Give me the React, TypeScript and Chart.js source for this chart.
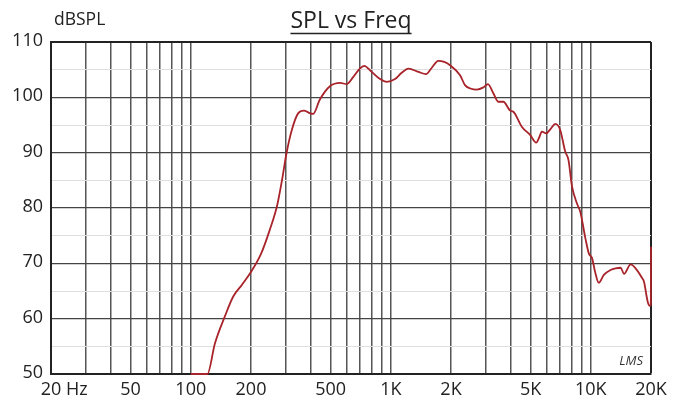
import React, { useEffect, useRef } from "react";
import { Chart, registerables } from "chart.js";

Chart.register(...registerables);

// Frequency response samples (Hz)
const freqHz = [
  100, 121, 132, 148, 163, 180, 198, 225, 248, 270, 286, 301, 320, 344, 368, 390, 409, 442,
  496, 558, 602, 650, 700, 736, 802, 884, 954, 1050, 1130, 1226, 1374, 1500, 1600, 1728,
  1850, 1978, 2220, 2350, 2500, 2692, 2906, 3060, 3260, 3452, 3656, 3950, 4100, 4518, 4972,
  5334, 5500, 5696, 5984, 6300, 6646, 7032, 7450, 7732, 8054, 8531, 8862, 9400, 9772, 10156,
  10500, 10960, 11616, 12550, 13306, 14100, 14660, 15820, 16740, 18080, 18440, 19300, 19750,
  19960, 20000,
];
// SPL values (dB)
const splDb = [
  50, 50, 55.5, 60.4, 64.0, 66.1, 68.2, 71.8, 76.0, 80.4, 85.1, 89.9, 94.1, 97.1, 97.6, 97.2,
  97.0, 99.6, 102.0, 102.6, 102.4, 103.7, 105.2, 105.7, 104.6, 103.3, 102.8, 103.3, 104.4,
  105.2, 104.6, 104.2, 105.3, 106.6, 106.4, 105.8, 104.0, 102.2, 101.6, 101.4, 101.8, 102.4,
  100.7, 99.2, 99.2, 97.6, 97.4, 94.7, 93.2, 91.8, 92.6, 93.8, 93.5, 94.3, 95.2, 94.1, 90.2,
  88.7, 83.9, 80.8, 79.3, 74.5, 71.8, 70.9, 68.5, 66.5, 67.9, 68.8, 69.1, 69.2, 68.1, 69.8,
  69.1, 67.3, 66.7, 62.9, 62.3, 62.5, 73.0,
];

const gridFreqs = [
  20, 30, 40, 50, 60, 70, 80, 90, 100, 200, 300, 400, 500, 600, 700, 800, 900, 1000, 2000,
  3000, 4000, 5000, 6000, 7000, 8000, 9000, 10000, 20000,
];
const xTickValues = [20, 50, 100, 200, 500, 1000, 2000, 5000, 10000, 20000];
const xTickLabels = ["20 Hz", "50", "100", "200", "500", "1K", "2K", "5K", "10K", "20K"];
const yTickValues = [50, 60, 70, 80, 90, 100, 110];
const titleText = "SPL vs Freq";
const yUnitText = "dBSPL";
const watermarkText = "LMS";

const FONT = '"Open Sans", "DejaVu Sans", sans-serif';

const textPlugin = {
  id: "textPlugin",
  afterDraw(chart: any) {
    const ctx = chart.ctx as CanvasRenderingContext2D;
    const xs = chart.scales.x;
    const ys = chart.scales.y;
    const area = chart.chartArea;
    ctx.save();
    ctx.fillStyle = "#222";

    // y labels
    ctx.font = `18px ${FONT}`;
    ctx.textAlign = "right";
    ctx.textBaseline = "middle";
    yTickValues.forEach((v) => {
      ctx.fillText(String(v), area.left - 8, ys.getPixelForValue(v) - 1);
    });

    // x labels
    ctx.textBaseline = "middle";
    xTickValues.forEach((v, i) => {
      const px = xs.getPixelForValue(v);
      const label = xTickLabels[i];
      if (i === 0) {
        const w = ctx.measureText("20").width;
        ctx.textAlign = "left";
        ctx.fillText(label, px - w / 2, area.bottom + 16);
      } else {
        ctx.textAlign = "center";
        ctx.fillText(label, px, area.bottom + 16);
      }
    });

    // unit label
    ctx.font = `17.5px ${FONT}`;
    ctx.textAlign = "left";
    ctx.textBaseline = "alphabetic";
    ctx.fillText(yUnitText, 54, 25);

    // title
    ctx.font = `23px ${FONT}`;
    ctx.textAlign = "center";
    const cx = 351;
    ctx.fillText(titleText, cx, 28);
    const tw = ctx.measureText(titleText).width;
    ctx.strokeStyle = "#222";
    ctx.lineWidth = 1.3;
    ctx.beginPath();
    ctx.moveTo(cx - tw / 2, 33.5);
    ctx.lineTo(cx + tw / 2, 33.5);
    ctx.stroke();

    // watermark
    ctx.font = `italic 13px ${FONT}`;
    ctx.textAlign = "right";
    ctx.textBaseline = "middle";
    ctx.fillStyle = "#333";
    ctx.fillText(watermarkText, area.right - 8, area.bottom - 13);

    ctx.restore();
  },
};

export default function App() {
  const canvasRef = useRef<HTMLCanvasElement | null>(null);

  useEffect(() => {
    const canvas = canvasRef.current;
    if (!canvas) return;
    const points = freqHz.map((f, i) => ({ x: f, y: splDb[i] }));
    const chart = new Chart(canvas, {
      type: "line",
      data: {
        datasets: [
          {
            data: points,
            borderColor: "#a8232a",
            borderWidth: 1.8,
            pointRadius: 0,
            fill: false,
            clip: 3,
            cubicInterpolationMode: "monotone",
          },
        ],
      },
      options: {
        responsive: false,
        animation: false,
        devicePixelRatio: 1,
        layout: { padding: { left: 51, right: 26, top: 42, bottom: 28 } },
        plugins: {
          legend: { display: false },
          tooltip: { enabled: false },
          title: { display: false },
        },
        scales: {
          x: {
            type: "logarithmic",
            min: 20,
            max: 20000,
            afterBuildTicks: (scale: any) => {
              scale.ticks = gridFreqs.map((v) => ({ value: v }));
            },
            ticks: { display: false },
            grid: {
              drawTicks: false,
              color: (c: any) => (c.tick && c.tick.value === 20000 ? "#222" : "#555"),
              lineWidth: (c: any) => (c.tick && c.tick.value === 20000 ? 2 : 1.5),
            },
            border: { display: true, color: "#222", width: 2 },
          },
          y: {
            type: "linear",
            min: 50,
            max: 110,
            ticks: { display: false, stepSize: 5 },
            grid: {
              drawTicks: false,
              color: (c: any) => {
                const v = c.tick ? c.tick.value : 0;
                if (v === 110) return "#222";
                return v % 10 === 0 ? "#444" : "#dedede";
              },
              lineWidth: (c: any) => {
                const v = c.tick ? c.tick.value : 0;
                if (v === 110) return 2;
                return v % 10 === 0 ? 1.3 : 1;
              },
            },
            border: { display: true, color: "#222", width: 2 },
          },
        },
      },
      plugins: [textPlugin],
    } as any);
    return () => chart.destroy();
  }, []);

  return (
    <div style={{ position: "absolute", left: 0, top: 0, width: 677, height: 402, background: "#fff" }}>
      <canvas ref={canvasRef} width={677} height={402} style={{ display: "block" }} />
    </div>
  );
}
